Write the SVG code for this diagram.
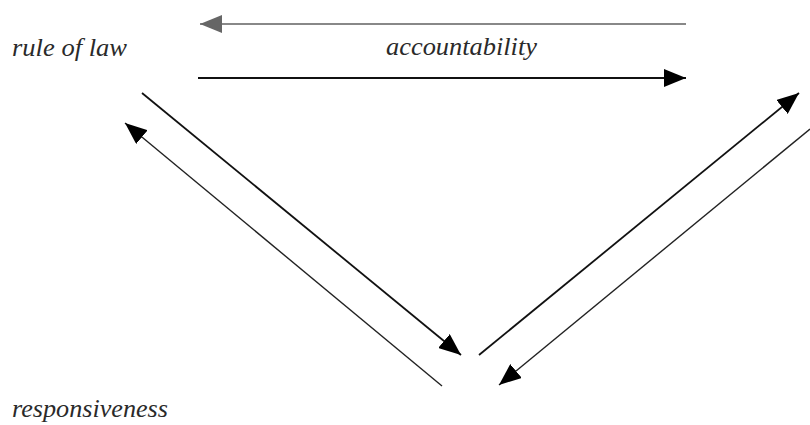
<svg xmlns="http://www.w3.org/2000/svg" width="810" height="425" viewBox="0 0 810 425">
<style>
.lbl{font-family:'Liberation Serif','DejaVu Serif',serif;font-style:italic;font-size:25px;fill:#2a2a2a}
.ln{fill:none;stroke:#111;stroke-width:1.8}
.ln2{fill:none;stroke:#222;stroke-width:1.4}
</style>
<defs>
<marker id="ah" viewBox="0 0 22 18" refX="22" refY="9" markerWidth="22" markerHeight="18" markerUnits="userSpaceOnUse" orient="auto">
<path d="M0,0 L22,9 L0,18 Z" fill="#000"/>
</marker>
<marker id="ahg" viewBox="0 0 22 18" refX="22" refY="9" markerWidth="22" markerHeight="18" markerUnits="userSpaceOnUse" orient="auto">
<path d="M0,0 L22,9 L0,18 Z" fill="#666"/>
</marker>
</defs>
<rect width="810" height="425" fill="#fff"/>
<g id="rule-of-law"><text class="lbl" x="12" y="56" textLength="115" lengthAdjust="spacingAndGlyphs">rule of law</text></g>
<g id="accountability"><text class="lbl" x="386" y="55" textLength="151" lengthAdjust="spacingAndGlyphs">accountability</text></g>
<g id="responsiveness"><text class="lbl" x="12" y="417" textLength="156" lengthAdjust="spacingAndGlyphs">responsiveness</text></g>
<g id="connectors">
<line x1="686" y1="24" x2="200" y2="24" stroke="#888" stroke-width="1.8" marker-end="url(#ahg)"/>
<line class="ln" x1="198" y1="78" x2="686" y2="78" marker-end="url(#ah)"/>
<line class="ln" x1="142" y1="93" x2="461" y2="355" marker-end="url(#ah)"/>
<line class="ln2" x1="442" y1="386" x2="125" y2="123" marker-end="url(#ah)"/>
<line class="ln" x1="479" y1="355" x2="799" y2="93" marker-end="url(#ah)"/>
<line class="ln2" x1="810" y1="129" x2="499" y2="385" marker-end="url(#ah)"/>
</g>
</svg>
